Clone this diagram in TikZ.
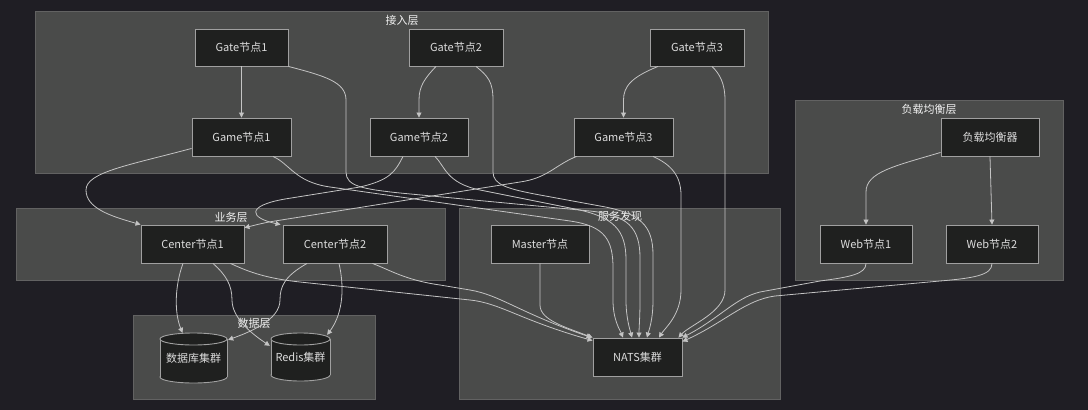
\documentclass[tikz,border=0pt]{standalone}
\usepackage{fontspec}
\setmainfont{Noto Sans CJK SC}
\usetikzlibrary{arrows.meta,calc}
\definecolor{bg}{HTML}{1F1E24}
\definecolor{clusterfill}{HTML}{4A4B4A}
\definecolor{clusterborder}{HTML}{626262}
\definecolor{nodefill}{HTML}{1F201F}
\definecolor{nodeborder}{HTML}{A0A0A0}
\definecolor{nodetext}{HTML}{DCDCDC}
\definecolor{titletext}{HTML}{F0F0F0}
\definecolor{edgecol}{HTML}{C4C4C4}
\begin{document}
\begin{tikzpicture}[x=1pt,y=-1pt,
  cluster/.style={fill=clusterfill,draw=clusterborder,line width=0.9pt},
  ctitle/.style={text=titletext,inner sep=0,font=\fontsize{11}{13}\selectfont},
  box/.style={draw=nodeborder,fill=nodefill,text=nodetext,line width=0.9pt,inner sep=0,font=\fontsize{11}{13}\selectfont},
  cyltext/.style={text=nodetext,inner sep=0,font=\fontsize{11}{13}\selectfont},
  cylpart/.style={fill=nodefill,draw=nodeborder,line width=0.9pt},
  edge/.style={draw=edgecol,line width=0.8pt,-{Triangle[length=5pt,width=5pt]}}]
\fill[bg] (0,0) rectangle (1088,410);
\useasboundingbox (0,0) rectangle (1088,410);
% clusters
\draw[cluster] (35,11) rectangle (768,173);
\node[ctitle] (t1) at (402,20) {接入层};
\draw[cluster] (795,100) rectangle (1063,280);
\node[ctitle] (t2) at (929,109) {负载均衡层};
\draw[cluster] (16,208) rectangle (445,280);
\node[ctitle] (t3) at (231,217) {业务层};
\draw[cluster] (459,208) rectangle (780,399);
\node[ctitle] (t4) at (620,216) {服务发现};
\draw[cluster] (133,315) rectangle (375,399);
\node[ctitle] (t5) at (254,323) {数据层};
% nodes
\node[box,minimum width=93pt,minimum height=37pt] (gate1) at (241.5,47.5) {Gate节点1};
\node[box,minimum width=94pt,minimum height=37pt] (gate2) at (456,47.5) {Gate节点2};
\node[box,minimum width=94pt,minimum height=37pt] (gate3) at (697,47.5) {Gate节点3};
\node[box,minimum width=99pt,minimum height=38pt] (game1) at (241.5,137) {Game节点1};
\node[box,minimum width=98pt,minimum height=38pt] (game2) at (419,137) {Game节点2};
\node[box,minimum width=99pt,minimum height=38pt] (game3) at (623.5,137) {Game节点3};
\node[box,minimum width=98pt,minimum height=38pt] (lb) at (990,137) {负载均衡器};
\node[box,minimum width=92pt,minimum height=38pt] (web1) at (866,244) {Web节点1};
\node[box,minimum width=92pt,minimum height=38pt] (web2) at (992,244) {Web节点2};
\node[box,minimum width=103pt,minimum height=38pt] (center1) at (192.5,244) {Center节点1};
\node[box,minimum width=104pt,minimum height=38pt] (center2) at (335,244) {Center节点2};
\node[box,minimum width=98pt,minimum height=38pt] (master) at (540,244) {Master节点};
\node[box,minimum width=89pt,minimum height=38pt] (nats) at (637.5,357) {NATS集群};
% cylinders
\draw[cylpart] (193.5,377) ellipse [x radius=33.5,y radius=6];
\fill[nodefill] (160,339) rectangle (227,377);
\draw[nodeborder,line width=0.9pt] (160,339) -- (160,377) (227,339) -- (227,377);
\draw[cylpart] (193.5,339) ellipse [x radius=33.5,y radius=6];
\node[cyltext,minimum width=67pt,minimum height=50pt] (db) at (193.5,358) {\raisebox{-4pt}{数据库集群}};
\draw[cylpart] (300.5,375) ellipse [x radius=29.5,y radius=6];
\fill[nodefill] (271,339) rectangle (330,375);
\draw[nodeborder,line width=0.9pt] (271,339) -- (271,375) (330,339) -- (330,375);
\draw[cylpart] (300.5,339) ellipse [x radius=29.5,y radius=6];
\node[cyltext,minimum width=59pt,minimum height=48pt] (redis) at (300.5,357) {\raisebox{-4pt}{Redis集群}};
% edges
\draw[edge] (gate1.south) -- (game1.north);
\draw[edge] ($(gate2.south)+(-20,0)$) .. controls (425,78) and (419,86) .. (419,100) -- (game2.north);
\draw[edge] ($(gate3.south)+(-39,0)$) .. controls (632,77) and (623.5,86) .. (623.5,100) -- (game3.north);
\draw[edge] ($(lb.south west)+(0,-4)$) .. controls (895,166) and (866,172) .. (866,192) -- (web1.north);
\draw[edge] (lb.south) -- (web2.north);
\draw[edge] (gate1.south east) .. controls (325,76) and (346,82) .. (346,100) -- (346,172) .. controls (346,186) and (362,189) .. (400,193) -- (590,211) .. controls (628,215) and (640,228) .. (640,258) -- (640,300) .. controls (640,318) and (639,328) .. ($(nats.north)+(1.5,0)$);
\draw[edge] ($(gate2.south)+(20,0)$) .. controls (488,76) and (493,82) .. (493,100) -- (493,172) .. controls (493,185) and (508,189) .. (540,195) -- (600,206) .. controls (640,213) and (653,225) .. (653,255) -- (653,300) .. controls (653,320) and (649,330) .. ($(nats.north)+(9.5,0)$);
\draw[edge] ($(gate3.south)+(15,0)$) .. controls (720,74) and (725,84) .. (725,100) -- (725,290) .. controls (725,312) and (690,325) .. ($(nats.north east)+(-4,0)$);
\draw[edge] ($(game1.south)+(31.5,0)$) .. controls (290,164) and (295,182) .. (330,187) -- (570,221) .. controls (605,226) and (613,240) .. (613,268) -- (613,300) .. controls (613,320) and (620,330) .. ($(nats.north)+(-14.5,0)$);
\draw[edge] ($(game2.south)+(16,0)$) .. controls (445,166) and (446,183) .. (480,190) -- (575,209) .. controls (614,217) and (626,230) .. (626,260) -- (626,300) .. controls (626,318) and (630,330) .. ($(nats.north)+(-5.5,0)$);
\draw[edge] ($(game3.south)+(29.5,0)$) .. controls (670,164) and (681,175) .. (681,195) -- (681,290) .. controls (681,315) and (665,328) .. ($(nats.north)+(21.5,0)$);
\draw[edge] ($(game1.south west)+(0,-8)$) .. controls (130,165) and (86,172) .. (86,190) .. controls (86,208) and (110,216) .. (center1.north west);
\draw[edge] ($(game2.south)+(-16,0)$) .. controls (395,172) and (390,180) .. (360,187) -- (285,199) .. controls (245,206) and (250,218) .. ($(center2.north west)+(-2,0)$);
\draw[edge] ($(game3.south west)+(3,0)$) .. controls (555,165) and (548,178) .. (520,182) -- (275,221) .. controls (262,223) and (252,226) .. ($(center1.north east)+(0,3)$);
\draw[edge] ($(center1.south)+(-9.5,0)$) .. controls (175,285) and (174,312) .. ($(db.north)+(-11,0)$);
\draw[edge] ($(center1.south)+(20.5,0)$) .. controls (226,275) and (232,285) .. (232,300) .. controls (232,318) and (252,334) .. ($(redis.north west)+(-1,13)$);
\draw[edge] ($(center2.south)+(-28,0)$) .. controls (285,276) and (280,286) .. (280,300) .. controls (280,320) and (250,332) .. ($(db.north east)+(1,7)$);
\draw[edge] ($(center2.south)+(4,0)$) .. controls (344,285) and (344,312) .. ($(redis.north east)+(-3,2)$);
\draw[edge] ($(center1.south east)+(-14,0)$) .. controls (245,270) and (262,278) .. (300,282) -- (470,300) .. controls (500,303) and (520,320) .. ($(nats.north west)+(0,3)$);
\draw[edge] ($(center2.south east)+(-15,0)$) .. controls (390,270) and (405,280) .. (440,285) -- (470,290) .. controls (500,295) and (520,313) .. ($(nats.north west)+(-1,0)$);
\draw[edge] (master.south) -- (540,305) .. controls (540,320) and (565,327) .. (nats.north west);
\draw[edge] (web1.south) .. controls (866,274) and (850,277) .. (820,281) -- (760,292) .. controls (735,298) and (720,318) .. (nats.north east);
\draw[edge] (web2.south) .. controls (992,275) and (975,278) .. (940,281) -- (775,296) .. controls (745,300) and (725,322) .. ($(nats.north east)+(0,4)$);
\end{tikzpicture}
\end{document}
